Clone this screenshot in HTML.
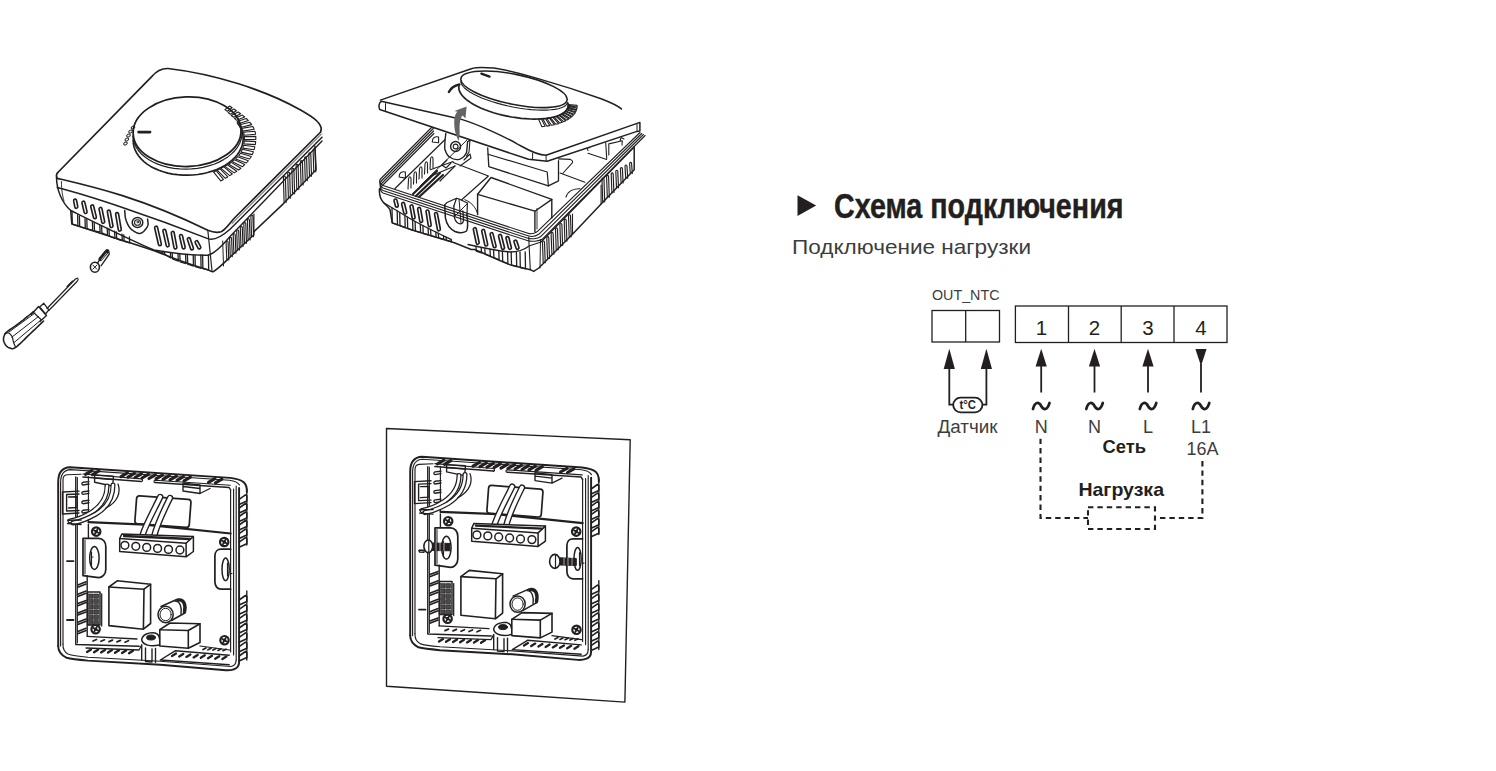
<!DOCTYPE html>
<html><head><meta charset="utf-8">
<style>
html,body{margin:0;padding:0;background:#fff;width:1496px;height:771px;overflow:hidden}
svg{position:absolute;left:0;top:0;display:block}
text{font-family:"Liberation Sans",sans-serif}
</style></head><body>
<svg width="1496" height="771" viewBox="0 0 1496 771">
<g id="ill1" fill="none" stroke="#231f20" stroke-linejoin="round" stroke-linecap="round">
<path d="M57.3,178.3 C56,176 56.5,173.5 58.3,172 L151.7,76.6 C156,71.5 161,68.3 168,68.5 C215,74 265,90 300.6,110 C311,116 319.5,121 321.3,128.2 L320.7,132 L234,218.5 C229,224 225.5,230 221,231.8 C216.5,233 212,232 207.8,230.3 C140,197 90,186 57.3,178.3 Z" stroke-width="1.7"/>
<path d="M57.3,187.6 C90,196 150,216 207.8,238.6 C213,240.5 219,239 230,229.2 L322,137.2" stroke-width="1.5"/>
<path d="M232,223.5 L321.5,134" stroke-width="0.9"/>
<path d="M56.5,177 C56.5,190 62,203 70.7,210.5" stroke-width="1.5"/>
<path d="M61.4,181.4 C61.5,190 62.5,196 64,201" stroke-width="0.9"/>
<path d="M70.7,210.5 C100,225 130,240 153.9,250 C175,253.5 195,255.5 207.8,255.2 C214,254 222,246 230,236.5 L322,141" stroke-width="1.4"/>
<path d="M70.7,210.5 L71.8,224 C90,230 115,238 133,243.7 L146,248 L154.9,251 C170,257 195,266 207.8,269.7 C210,271 212,272 213,271.8 C218,269 224,263 230,257.2 L253.9,234.8 L253.9,231.6 L283.5,203.6 L316.1,169.7 L314.9,146.3" stroke-width="1.5"/>
<path d="M253.9,214 L253.9,232" stroke-width="1.2"/>
<path d="M207.8,230.3 L212,270.7" stroke-width="1.2"/>
<path d="M222.7,241 L223.5,266" stroke-width="1.0"/>
<path d="M72.0,211.3 L72.3,224.1 L77.9,225.9 L77.6,214.8" stroke-width="1.3"/>
<path d="M79.4,215.8 L79.7,226.5 L85.3,228.3 L85.0,218.6" stroke-width="1.3"/>
<path d="M86.8,219.4 L87.1,228.8 L92.7,230.4 L92.4,221.9" stroke-width="1.3"/>
<path d="M94.2,222.7 L94.5,230.8 L100.1,232.2 L99.8,225.1" stroke-width="1.3"/>
<path d="M101.6,225.9 L101.9,232.9 L107.5,235.3 L107.2,228.2" stroke-width="1.3"/>
<path d="M109.0,228.9 L109.3,236.1 L114.9,238.3 L114.6,231.1" stroke-width="1.3"/>
<path d="M116.4,231.8 L116.7,238.9 L122.3,240.8 L122.0,234.1" stroke-width="1.3"/>
<path d="M123.8,234.8 L124.1,241.3 L129.7,242.8 L129.4,236.8" stroke-width="1.3"/>
<path d="M157.0,250.9 L157.3,251.1 L163.1,253.5 L162.8,252.0" stroke-width="1.3"/>
<path d="M164.6,252.3 L164.9,254.4 L170.7,257.9 L170.4,253.0" stroke-width="1.3"/>
<path d="M172.2,253.2 L172.5,258.9 L178.3,261.2 L178.0,253.7" stroke-width="1.3"/>
<path d="M179.8,253.9 L180.1,261.8 L185.9,263.6 L185.6,254.4" stroke-width="1.3"/>
<path d="M187.4,254.5 L187.7,264.2 L193.5,266.1 L193.2,254.8" stroke-width="1.3"/>
<path d="M195.0,254.8 L195.3,266.7 L201.1,268.3 L200.8,255.0" stroke-width="1.3"/>
<path d="M202.6,255.0 L202.9,268.6 L208.7,270.2 L208.4,255.2" stroke-width="1.3"/>
<path d="M226.8,260.0 L226.1,242.3 C226.1,240.6 228.1,240.6 228.1,242.3 L228.8,260.0" stroke-width="1.15"/>
<path d="M230.3,256.6 L229.6,238.6 C229.6,236.9 231.6,236.9 231.6,238.6 L232.3,256.6" stroke-width="1.15"/>
<path d="M233.9,253.3 L233.2,235.0 C233.2,233.3 235.2,233.3 235.2,235.0 L235.9,253.3" stroke-width="1.15"/>
<path d="M237.4,250.0 L236.7,231.3 C236.7,229.6 238.7,229.6 238.7,231.3 L239.4,250.0" stroke-width="1.15"/>
<path d="M241.0,246.6 L240.3,227.6 C240.3,225.9 242.3,225.9 242.3,227.6 L243.0,246.6" stroke-width="1.15"/>
<path d="M244.5,243.3 L243.8,223.9 C243.8,222.2 245.8,222.2 245.8,223.9 L246.5,243.3" stroke-width="1.15"/>
<path d="M248.1,240.0 L247.4,220.2 C247.4,218.5 249.4,218.5 249.4,220.2 L250.1,240.0" stroke-width="1.15"/>
<path d="M251.6,236.7 L250.9,216.5 C250.9,214.8 252.9,214.8 252.9,216.5 L253.6,236.7" stroke-width="1.15"/>
<path d="M284.1,202.6 L283.4,177.4 C283.4,175.7 285.4,175.7 285.4,177.4 L286.1,202.6" stroke-width="1.15"/>
<path d="M288.4,198.2 L287.7,173.5 C287.7,171.8 289.7,171.8 289.7,173.5 L290.4,198.2" stroke-width="1.15"/>
<path d="M292.6,193.8 L291.9,169.6 C291.9,167.9 293.9,167.9 293.9,169.6 L294.6,193.8" stroke-width="1.15"/>
<path d="M296.8,189.4 L296.1,165.7 C296.1,164.0 298.1,164.0 298.1,165.7 L298.8,189.4" stroke-width="1.15"/>
<path d="M301.1,185.0 L300.4,161.9 C300.4,160.2 302.4,160.2 302.4,161.9 L303.1,185.0" stroke-width="1.15"/>
<path d="M305.3,180.6 L304.6,158.0 C304.6,156.3 306.6,156.3 306.6,158.0 L307.3,180.6" stroke-width="1.15"/>
<path d="M309.5,176.2 L308.8,154.1 C308.8,152.4 310.8,152.4 310.8,154.1 L311.5,176.2" stroke-width="1.15"/>
<path d="M313.8,171.8 L313.1,150.2 C313.1,148.5 315.1,148.5 315.1,150.2 L315.8,171.8" stroke-width="1.15"/>
<path d="M75.1,200.6 L76.3,206.8" stroke-width="4.6"/>
<path d="M75.1,200.6 L76.3,206.8" stroke="#fff" stroke-width="1.3"/>
<path d="M83.4,202.7 L85.6,212.0" stroke-width="4.6"/>
<path d="M83.4,202.7 L85.6,212.0" stroke="#fff" stroke-width="1.3"/>
<path d="M92.2,206.4 L94.9,217.2" stroke-width="4.6"/>
<path d="M92.2,206.4 L94.9,217.2" stroke="#fff" stroke-width="1.3"/>
<path d="M100.5,208.9 L103.2,221.8" stroke-width="4.6"/>
<path d="M100.5,208.9 L103.2,221.8" stroke="#fff" stroke-width="1.3"/>
<path d="M108.8,211.6 L111.5,226.0" stroke-width="4.6"/>
<path d="M108.8,211.6 L111.5,226.0" stroke="#fff" stroke-width="1.3"/>
<path d="M117.1,214.1 L119.8,229.6" stroke-width="4.6"/>
<path d="M117.1,214.1 L119.8,229.6" stroke="#fff" stroke-width="1.3"/>
<path d="M156.1,227.7 L159.9,244.2" stroke-width="4.6"/>
<path d="M156.1,227.7 L159.9,244.2" stroke="#fff" stroke-width="1.3"/>
<path d="M164.4,230.8 L167.7,245.3" stroke-width="4.6"/>
<path d="M164.4,230.8 L167.7,245.3" stroke="#fff" stroke-width="1.3"/>
<path d="M172.7,232.9 L175.4,247.4" stroke-width="4.6"/>
<path d="M172.7,232.9 L175.4,247.4" stroke="#fff" stroke-width="1.3"/>
<path d="M181.0,236.0 L183.7,247.4" stroke-width="4.6"/>
<path d="M181.0,236.0 L183.7,247.4" stroke="#fff" stroke-width="1.3"/>
<path d="M188.8,239.1 L192.0,248.4" stroke-width="4.6"/>
<path d="M188.8,239.1 L192.0,248.4" stroke="#fff" stroke-width="1.3"/>
<path d="M196.6,242.2 L199.3,247.4" stroke-width="4.6"/>
<path d="M196.6,242.2 L199.3,247.4" stroke="#fff" stroke-width="1.3"/>
<path d="M124.7,210.5 L124.8,211.7 L124.9,212.9 L125.0,214.1 L125.1,215.3 L125.2,216.5 L125.4,217.7 L125.7,218.8 L126.0,220.0 L126.4,221.2 L126.9,222.4 L127.4,223.6 L128.0,224.8 L128.6,226.0 L129.4,227.1 L130.1,228.1 L131.0,229.0 L132.0,229.9 L133.1,230.7 L134.3,231.5 L135.6,232.2 L136.8,232.8 L138.1,233.2 L139.3,233.4 L140.4,233.4 L141.5,233.0 L142.5,232.4 L143.6,231.5 L144.6,230.5 L145.5,229.3 L146.4,228.2 L147.1,227.1 L147.6,226.1 L147.9,225.2 L148.1,224.3 L148.1,223.4 L148.0,222.5 L147.9,221.6 L147.8,220.7 L147.6,219.8 L147.6,218.9" stroke-width="1.5"/>
<ellipse cx="137.5" cy="222.5" rx="5.3" ry="5" stroke-width="1.5"/>
<ellipse cx="137.5" cy="222.5" rx="3" ry="2.8" stroke-width="1.1"/>
<circle cx="137.8" cy="222" r="0.9" stroke-width="1"/>
<ellipse cx="187.1" cy="131.7" rx="54" ry="34.8" transform="rotate(-1.9 187.1 131.7)" stroke-width="1.8"/>
<path d="M242.0,132.5 L241.8,136.3 L240.9,140.0 L239.5,143.7 L237.4,147.3 L234.8,150.7 L231.5,153.9 L227.8,156.9 L223.6,159.6 L219.0,162.1 L214.0,164.2 L208.7,165.9 L203.1,167.3 L197.4,168.3 L191.5,168.9 L185.6,169.1 L179.7,168.9 L173.9,168.3 L168.3,167.3 L162.9,165.9 L157.7,164.1 L153.0,162.0 L148.6,159.5 L144.7,156.8 L141.2,153.8 L138.4,150.5 L136.1,147.1 L134.4,143.5 L133.3,139.9 L132.8,136.1" stroke-width="1.2"/>
<path d="M237.5,122.9 L239.6,125.9 L241.2,129.0 L242.3,132.2 L243.0,135.4 L243.2,138.7 L242.9,142.0 L242.2,145.3 L241.0,148.5 L239.3,151.7 L237.3,154.7 L234.7,157.7 L231.8,160.4 L228.6,163.0 L224.9,165.4 L221.0,167.6 L216.8,169.5 L212.3,171.1 L207.6,172.5 L202.8,173.7 L197.8,174.5 L192.8,175.0 L187.7,175.2 L182.6,175.1 L177.6,174.7 L172.6,174.1 L167.8,173.1 L163.2,171.8 L158.8,170.2 L154.6,168.4 L150.7,166.4 L147.1,164.1 L143.9,161.6 L141.1,158.9 L138.7,156.0 L136.7,153.0 L135.1,149.9 L134.0,146.7 L133.4,143.5 L133.2,140.2" stroke-width="1.7"/>
<path d="M138.6,132.1 L150,132.1" stroke-width="2.8"/>
<ellipse cx="133.0" cy="127.5" rx="1.9" ry="1.3" transform="rotate(-30 133.0 127.5)" stroke-width="1"/>
<ellipse cx="130.5" cy="131.5" rx="1.9" ry="1.3" transform="rotate(-30 130.5 131.5)" stroke-width="1"/>
<ellipse cx="128.5" cy="135.5" rx="1.9" ry="1.3" transform="rotate(-30 128.5 135.5)" stroke-width="1"/>
<ellipse cx="126.8" cy="139.5" rx="1.9" ry="1.3" transform="rotate(-30 126.8 139.5)" stroke-width="1"/>
<ellipse cx="125.5" cy="143.5" rx="1.9" ry="1.3" transform="rotate(-30 125.5 143.5)" stroke-width="1"/>
<path d="M229.7,106.0 L232.1,107.7 L227.3,111.3 L224.9,109.6 Z" stroke-width="1.1"/>
<path d="M233.9,109.0 L236.4,110.7 L230.5,114.3 L228.1,112.6 Z" stroke-width="1.1"/>
<path d="M238.2,112.0 L240.6,113.7 L233.7,117.3 L231.2,115.5 Z" stroke-width="1.1"/>
<path d="M242.4,115.1 L244.7,117.0 L236.7,120.3 L234.4,118.4 Z" stroke-width="1.1"/>
<path d="M246.3,118.5 L248.4,120.6 L239.3,123.6 L237.2,121.5 Z" stroke-width="1.1"/>
<path d="M249.9,122.3 L251.7,124.6 L241.6,127.2 L239.7,124.8 Z" stroke-width="1.1"/>
<path d="M252.9,126.5 L254.2,129.2 L243.0,131.1 L241.7,128.4 Z" stroke-width="1.1"/>
<path d="M255.0,131.3 L255.6,134.2 L244.2,135.3 L243.6,132.3 Z" stroke-width="1.1"/>
<path d="M255.8,136.4 L255.8,139.4 L244.4,139.6 L244.4,136.6 Z" stroke-width="1.1"/>
<path d="M255.7,141.6 L255.3,144.6 L243.9,143.9 L244.3,140.9 Z" stroke-width="1.1"/>
<path d="M254.8,146.8 L254.1,149.7 L242.8,148.1 L243.6,145.2 Z" stroke-width="1.1"/>
<path d="M253.4,151.8 L252.3,154.6 L241.1,152.1 L242.3,149.3 Z" stroke-width="1.1"/>
<path d="M251.3,156.5 L249.6,159.0 L238.7,155.8 L240.4,153.2 Z" stroke-width="1.1"/>
<path d="M248.3,160.8 L246.3,163.0 L235.7,158.9 L237.6,156.7 Z" stroke-width="1.1"/>
<path d="M244.7,164.6 L242.6,166.7 L232.3,161.7 L234.5,159.7 Z" stroke-width="1.1"/>
<path d="M240.9,168.2 L238.6,170.0 L228.7,164.3 L231.1,162.4 Z" stroke-width="1.1"/>
<path d="M236.8,171.3 L234.2,172.9 L224.9,166.4 L227.4,164.8 Z" stroke-width="1.1"/>
<path d="M232.3,174.0 L229.8,175.6 L221.0,168.3 L223.6,166.7 Z" stroke-width="1.1"/>
<path d="M227.9,176.8 L225.4,178.3 L217.3,170.3 L219.9,168.7 Z" stroke-width="1.1"/>
<path d="M223.4,179.4 L220.8,180.9 L213.6,172.2 L216.2,170.7 Z" stroke-width="1.1"/>
<ellipse cx="94.9" cy="267.2" rx="4.5" ry="5" stroke-width="1.6"/>
<path d="M92.8,265 L96.8,269.2 M97,265 L92.8,269.2" stroke-width="1"/>
<path d="M97.3,263.3 L104.5,252.5 C106.5,250 110,251.5 109,254.5 L101,265.8" stroke-width="1.3"/>
<path d="M100.5,259 L107.2,251.2" stroke-width="4.2"/>
<path d="M101.5,259.5 L103,257.8 M103.3,257.3 L104.8,255.6 M105,255 L106.5,253.3" stroke="#fff" stroke-width="0.7"/>
<path d="M77.8,278.1 L75.5,279 L47,308.5 M78.2,279.5 L77,281.5 L48.8,310.5" stroke-width="1.2"/>
<path d="M67,286.5 L72.5,281" stroke-width="1.1"/>
<path d="M39.7,307 L43.8,303.3 L48.8,309.8 L45.5,314 Z" stroke-width="1.3"/>
<path d="M31.1,314.7 L38.5,306.5 L46.5,315.5 L40,321.5" stroke-width="1.4"/>
<path d="M33,312 L41,319.5" stroke-width="1.1"/>
<path d="M27.5,316.5 L26.3,317.4 L25.1,318.4 L24.0,319.3 L22.8,320.3 L21.6,321.2 L20.4,322.2 L19.2,323.1 L18.0,324.0 L16.7,324.9 L15.4,325.9 L14.0,326.8 L12.6,327.8 L11.3,328.7 L10.0,329.5 L8.9,330.3 L8.0,331.0 L7.3,331.6 L6.7,332.1 L6.2,332.5 L5.8,332.8 L5.5,333.2 L5.2,333.6 L5.0,334.0 L4.7,334.5 L4.4,335.1 L4.2,335.7 L3.9,336.4 L3.7,337.1 L3.6,337.8 L3.5,338.6 L3.5,339.3 L3.5,340.0 L3.6,340.7 L3.8,341.4 L4.1,342.2 L4.4,342.9 L4.8,343.7 L5.2,344.3 L5.6,345.0 L6.0,345.5 L6.4,346.0 L6.9,346.4 L7.3,346.8 L7.8,347.1 L8.3,347.4 L8.9,347.7 L9.4,347.9 L10.0,348.0 L10.6,348.2 L11.1,348.4 L11.6,348.6 L12.1,348.7 L12.8,348.7 L13.5,348.5 L14.5,348.1 L15.6,347.4 L17.0,346.3 L18.6,344.9 L20.4,343.3 L22.3,341.5 L24.3,339.6 L26.2,337.6 L28.2,335.7 L30.0,334.0 L31.7,332.4 L33.5,330.7 L35.2,329.1 L36.8,327.5 L38.5,325.9 L40.2,324.2 L41.9,322.6 L43.6,321.0" stroke-width="1.6"/>
<path d="M27.5,316.5 L33.5,311.5" stroke-width="1.4"/>
<path d="M4.7,334.0 L5.2,333.8 L5.7,333.6 L6.1,333.4 L6.6,333.2 L7.1,333.0 L7.6,332.9 L8.0,332.9 L8.5,333.0 L9.0,333.2 L9.4,333.5 L9.9,333.9 L10.4,334.3 L10.8,334.8 L11.3,335.4 L11.7,335.9 L12.0,336.5 L12.3,337.1 L12.5,337.7 L12.7,338.4 L12.8,339.1 L13.0,339.9 L13.1,340.6 L13.3,341.3 L13.5,342.0 L13.7,342.7 L14.0,343.4 L14.2,344.0 L14.5,344.7 L14.8,345.4 L15.1,346.1 L15.3,346.7 L15.6,347.4" stroke-width="1.2"/>
<path d="M9,332 L35,313 M12,337 L38.5,316.5 M13.5,343 L41.5,319.5" stroke-width="1.0"/>
</g>
<g id="ill2" fill="none" stroke="#231f20" stroke-linejoin="round" stroke-linecap="round">
<path d="M433.0,126.0 L381.0,178.5 C378.5,181.0 379.5,184.0 383.0,185.5 L528.0,233.3 C531.0,234.3 534.0,233.8 537.0,231.8 L640.0,132.5" stroke-width="1.1"/>
<path d="M433.3,128.5 L381.3,181.0 C378.8,183.5 379.8,186.5 383.0,188.0 L528.0,235.8 C531.0,236.8 535.7,236.3 538.7,234.3 L641.7,133.5" stroke-width="1.1"/>
<path d="M433.6,131.0 L381.6,183.5 C379.1,186.0 380.1,189.0 383.0,190.5 L528.0,238.3 C531.0,239.3 537.4,238.8 540.4,236.8 L643.4,134.5" stroke-width="1.1"/>
<path d="M433.9,133.5 L381.9,186.0 C379.4,188.5 380.4,191.5 383.0,193.0 L528.0,240.8 C531.0,241.8 539.1,241.3 542.1,239.3 L645.1,135.5" stroke-width="1.1"/>
<path d="M379.5,188.8 C379,195 381,200 383.7,202.7 C386,205 388.5,207 390,209.7 L392.2,222.9 L412,230 L454.3,242.7 L471.2,249.5 L474.6,249.5 C490,256 500,261 510,264.7 L530.3,269.7 L533.7,271.4 L538.8,268 L572.5,234.3 L601.1,204 L634.2,169.8 L634.2,147" stroke-width="1.5"/>
<path d="M383.7,202.7 L412,219.8 C425,227 435,232 451,239.4 M468,244.5 C490,249.5 500,251 510,252 C518,252 524,250 529,246 L541,242 L634.2,147" stroke-width="1.3"/>
<path d="M528.7,237 L530.3,269.7" stroke-width="1.1"/>
<path d="M540.5,240 L540,268" stroke-width="1.0"/>
<path d="M572.5,214 L572.5,234.3 M601.1,185 L601.1,204" stroke-width="1.1"/>
<path d="M392.0,207.8 L392.3,222.9 L397.5,224.8 L397.2,211.0" stroke-width="1.3"/>
<path d="M399.7,212.6 L400.0,225.7 L405.2,227.6 L404.9,215.7" stroke-width="1.3"/>
<path d="M407.4,217.2 L407.7,228.5 L412.9,230.2 L412.6,220.1" stroke-width="1.3"/>
<path d="M415.1,221.5 L415.4,231.0 L420.6,232.5 L420.3,224.2" stroke-width="1.3"/>
<path d="M422.9,225.5 L423.2,233.3 L428.4,234.8 L428.1,228.1" stroke-width="1.3"/>
<path d="M430.6,229.4 L430.9,235.6 L436.1,237.1 L435.8,231.9" stroke-width="1.3"/>
<path d="M438.3,233.1 L438.6,237.8 L443.8,239.4 L443.5,235.8" stroke-width="1.3"/>
<path d="M446.0,237.2 L446.3,240.1 L451.5,241.7 L451.2,239.5" stroke-width="1.3"/>
<path d="M476.0,246.5 L476.3,251.2 L481.5,252.9 L481.2,247.7" stroke-width="1.3"/>
<path d="M484.8,248.5 L485.1,254.1 L490.3,256.0 L490.0,249.5" stroke-width="1.3"/>
<path d="M493.6,250.1 L493.9,257.5 L499.1,259.9 L498.8,250.8" stroke-width="1.3"/>
<path d="M502.4,251.2 L502.7,261.5 L507.9,263.8 L507.6,251.7" stroke-width="1.3"/>
<path d="M511.2,252.0 L511.5,265.1 L516.7,266.7 L516.4,252.0" stroke-width="1.3"/>
<path d="M520.0,252.0 L520.3,267.6 L525.5,268.8 L525.2,252.0" stroke-width="1.3"/>
<path d="M395.5,200.5 L396.8,205.7" stroke-width="4.6"/>
<path d="M395.5,200.5 L396.8,205.7" stroke="#fff" stroke-width="1.3"/>
<path d="M403.1,203.9 L405.2,212.5" stroke-width="4.6"/>
<path d="M403.1,203.9 L405.2,212.5" stroke="#fff" stroke-width="1.3"/>
<path d="M411.5,206.4 L413.6,217.5" stroke-width="4.6"/>
<path d="M411.5,206.4 L413.6,217.5" stroke="#fff" stroke-width="1.3"/>
<path d="M419.1,208.9 L421.2,220.9" stroke-width="4.6"/>
<path d="M419.1,208.9 L421.2,220.9" stroke="#fff" stroke-width="1.3"/>
<path d="M427.5,211.5 L429.7,225.1" stroke-width="4.6"/>
<path d="M427.5,211.5 L429.7,225.1" stroke="#fff" stroke-width="1.3"/>
<path d="M436.0,214.0 L438.9,229.3" stroke-width="4.6"/>
<path d="M436.0,214.0 L438.9,229.3" stroke="#fff" stroke-width="1.3"/>
<path d="M474.8,229.2 L477.7,242.8" stroke-width="4.6"/>
<path d="M474.8,229.2 L477.7,242.8" stroke="#fff" stroke-width="1.3"/>
<path d="M483.2,230.9 L486.2,244.5" stroke-width="4.6"/>
<path d="M483.2,230.9 L486.2,244.5" stroke="#fff" stroke-width="1.3"/>
<path d="M491.6,234.2 L494.6,246.2" stroke-width="4.6"/>
<path d="M491.6,234.2 L494.6,246.2" stroke="#fff" stroke-width="1.3"/>
<path d="M500.0,235.9 L503.0,247.9" stroke-width="4.6"/>
<path d="M500.0,235.9 L503.0,247.9" stroke="#fff" stroke-width="1.3"/>
<path d="M507.5,238.1 L509.9,247.8" stroke-width="4.6"/>
<path d="M507.5,238.1 L509.9,247.8" stroke="#fff" stroke-width="1.3"/>
<path d="M515.4,241.6 L517.5,247.8" stroke-width="4.6"/>
<path d="M515.4,241.6 L517.5,247.8" stroke="#fff" stroke-width="1.3"/>
<path d="M543.2,262.8 L542.5,242.3 C542.5,240.6 544.5,240.6 544.5,242.3 L545.2,262.8" stroke-width="1.15"/>
<path d="M547.5,258.5 L546.8,237.9 C546.8,236.2 548.8,236.2 548.8,237.9 L549.5,258.5" stroke-width="1.15"/>
<path d="M551.9,254.1 L551.1,233.6 C551.1,231.9 553.1,231.9 553.1,233.6 L553.9,254.1" stroke-width="1.15"/>
<path d="M556.2,249.8 L555.5,229.2 C555.5,227.5 557.5,227.5 557.5,229.2 L558.2,249.8" stroke-width="1.15"/>
<path d="M560.6,245.4 L559.9,224.8 C559.9,223.1 561.9,223.1 561.9,224.8 L562.6,245.4" stroke-width="1.15"/>
<path d="M564.9,241.1 L564.2,220.4 C564.2,218.7 566.2,218.7 566.2,220.4 L566.9,241.1" stroke-width="1.15"/>
<path d="M569.2,236.8 L568.5,216.0 C568.5,214.3 570.5,214.3 570.5,216.0 L571.2,236.8" stroke-width="1.15"/>
<path d="M602.7,202.0 L602.0,179.3 C602.0,177.6 604.0,177.6 604.0,179.3 L604.7,202.0" stroke-width="1.15"/>
<path d="M607.3,197.3 L606.6,176.7 C606.6,175.0 608.6,175.0 608.6,176.7 L609.3,197.3" stroke-width="1.15"/>
<path d="M611.9,192.5 L611.2,174.1 C611.2,172.4 613.2,172.4 613.2,174.1 L613.9,192.5" stroke-width="1.15"/>
<path d="M616.5,187.8 L615.8,171.5 C615.8,169.8 617.8,169.8 617.8,171.5 L618.5,187.8" stroke-width="1.15"/>
<path d="M621.1,183.0 L620.4,168.9 C620.4,167.2 622.4,167.2 622.4,168.9 L623.1,183.0" stroke-width="1.15"/>
<path d="M625.7,178.3 L625.0,166.3 C625.0,164.6 627.0,164.6 627.0,166.3 L627.7,178.3" stroke-width="1.15"/>
<path d="M630.3,173.5 L629.6,163.7 C629.6,162.0 631.6,162.0 631.6,163.7 L632.3,173.5" stroke-width="1.15"/>
<path d="M444.7,204.9 L445.4,217.9 C446.5,224 450,229 455,231.5 C459,233.3 464,233 466.5,231 C468,229 467.8,222 467,214.6" stroke-width="1.5"/>
<path d="M453.8,206.2 L454.5,217.9 C455.5,221.5 457.5,223.5 460,223.8 C462.5,223.8 463.8,222 463.5,219 L462.9,211" stroke-width="1.3"/>
<path d="M444.7,204.9 L447,202.5 L456.5,198.2 L459,199 L467.4,203 L467,214.6 M453.8,206.2 L456.5,198.2" stroke-width="1.2"/>
<path d="M464.8,199.7 C471,202 476,207 477.8,214.6 M455,216 L468,203 M459,199 L461,223" stroke-width="1.0"/>
<path d="M444.8,139.7 L395.0,188.5" stroke-width="1.2"/>
<path d="M467.0,140.0 L420.0,186.0" stroke-width="1.0"/>
<path d="M432.3,142 C432,137.5 435.5,136 438.6,137 L438.6,142.8 Z M399.1,177 C399,172.5 402,171 405.4,172 L405.4,178.1 Z" stroke-width="1.1"/>
<path d="M408.0,189.0 L408.5,179.0 C409.0,176.0 411.0,176.0 411.0,179.0 L411.0,188.0" stroke-width="1.1"/>
<path d="M413.5,184.0 L414.0,174.0 C414.5,171.0 416.5,171.0 416.5,174.0 L416.5,183.0" stroke-width="1.1"/>
<path d="M419.0,179.0 L419.5,169.0 C420.0,166.0 422.0,166.0 422.0,169.0 L422.0,178.0" stroke-width="1.1"/>
<path d="M424.5,174.0 L425.0,164.0 C425.5,161.0 427.5,161.0 427.5,164.0 L427.5,173.0" stroke-width="1.1"/>
<path d="M430.0,169.0 L430.5,159.0 C431.0,156.0 433.0,156.0 433.0,159.0 L433.0,168.0" stroke-width="1.1"/>
<path d="M413,194 L437,171 M416,196 L440,173 M419,197 L443,175" stroke-width="2.2"/>
<path d="M430.3,169.8 L453.1,161.5 M431,176 L455,166" stroke-width="1.1"/>
<path d="M453.1,162.5 L488.4,176 L461.4,200 M455,166 L440,181" stroke-width="1.2"/>
<path d="M491,177.5 L551.8,199.4 L534.9,211.2 L477.6,194.3 Z" stroke-width="1.4"/>
<path d="M477.6,194.3 L477.6,214.6 M534.9,211.2 L534.9,231.4 M551.8,199.4 L551.8,218" stroke-width="1.4"/>
<path d="M537,208.5 L537,229" stroke-width="0.9"/>
<path d="M487.7,148 L488.8,166.6 L548.4,185.9 L558.5,180.8 L558.5,160.6" stroke-width="1.3"/>
<path d="M488,154.2 L547.2,172 L548.4,185.9" stroke-width="1.2"/>
<path d="M558.5,158.9 L570.4,159.4 C572,160 573,161.5 572.5,162.6 L563.1,173 M560,173 L584.9,182.3" stroke-width="1.1"/>
<path d="M588,150.5 L586.8,147.6 L589.8,147.8 M588,153.2 L606.7,159.4" stroke-width="1.1"/>
<path d="M605.7,142.8 L606.7,158.4 M608.8,143.9 L608.8,155 M608.8,143.9 L622.3,140.8 L622,145 M620,141 L621,137.5 L624,139" stroke-width="1.1"/>
<path d="M566,197 C568,191 574,188.5 580,188.8" stroke-width="1.1"/>
<path d="M445.8,133.5 C445,140 444.5,145 444.8,149 C446,153 447.5,156 450,157.3 C453,159.5 456,160 459.3,159.4 C463,158 465.5,155 466.6,152.2 L467.6,141.8" stroke-width="1.4"/>
<circle cx="455.6" cy="146.5" r="5" stroke-width="1.4"/>
<circle cx="455.6" cy="146.5" r="2.4" stroke-width="1.1"/>
<path d="M467.6,141.8 L470,140 L469,152 L466.5,156 M464,160 L470,154 L471,158 L460,166" stroke-width="1.1"/>
<path d="M447,160 L442,165 L446,168 L451,163" stroke-width="1.1"/>
<path d="M380.4,100.1 L472,68.5 C476,67 480,66.8 493.6,68 C510,70 560,84 601.1,98.8 C615,104 630,114 639.9,122.4 L639.9,131 L547.2,161.2 L528.5,159.3 L379.7,109.5 C378.5,107 378.7,103 380.4,100.1 Z" fill="#fff" stroke="none"/>
<path d="M380.4,100.1 L472,68.5 C476,67 480,66.8 493.6,68 C510,70 560,84 601.1,98.8 C612,103 618,106 621.4,108.9" stroke-width="1.5"/>
<path d="M381.2,101.3 L460,118.9 C480,125 505,137 517.1,143.8 C525,148 535,155 546.1,155.2 L639.9,122.4 L639.9,131 L637,131.4 L547.2,161.2 L528.5,159.3 L379.7,109.5 C378.5,107 378.7,103 381.2,101.3" stroke-width="1.5"/>
<path d="M385.5,103.6 L385.5,110.6 M532.6,153.1 L532.6,159.6 M546.1,155.2 L546.1,161.4" stroke-width="1.0"/>
<path d="M637,124 L637,131.4" stroke-width="1.0"/>
<ellipse cx="514" cy="89.3" rx="54.2" ry="15" transform="rotate(11.6 514 89.3)" stroke-width="1.6"/>
<path d="M567.5,102.5 L566.8,104.1 L565.6,105.5 L563.7,106.8 L561.3,107.8 L558.3,108.7 L554.8,109.4 L550.8,109.8 L546.4,110.1 L541.6,110.1 L536.4,110.0 L531.1,109.6 L525.5,109.0 L519.8,108.2 L514.0,107.2 L508.2,106.0 L502.5,104.6 L497.0,103.1 L491.6,101.5 L486.5,99.7 L481.7,97.9 L477.4,95.9 L473.4,94.0 L469.9,92.0 L467.0,90.0 L464.5,88.0 L462.7,86.0 L461.5,84.1 L460.9,82.3 L460.9,80.7" stroke-width="1.1"/>
<path d="M567.9,103.0 L568.2,104.8 L568.1,106.5 L567.6,108.2 L566.7,109.8 L565.4,111.3 L563.7,112.7 L561.7,114.0 L559.3,115.2 L556.6,116.2 L553.6,117.0 L550.3,117.8 L546.7,118.3 L542.8,118.7 L538.8,119.0 L534.5,119.1 L530.2,119.0 L525.6,118.7 L521.0,118.3 L516.4,117.7 L511.7,117.0 L507.1,116.1 L502.4,115.1 L497.9,114.0 L493.5,112.7 L489.2,111.3 L485.1,109.8 L481.2,108.2 L477.6,106.5 L474.2,104.7 L471.1,102.9 L468.3,101.0 L465.8,99.1 L463.7,97.2 L462.0,95.3 L460.6,93.3 L459.6,91.4 L459.0,89.6 L458.8,87.8 L459.0,86.0" stroke-width="1.7"/>
<path d="M481.3,73.6 L489.6,76.6" stroke-width="2.2"/>
<path d="M448.9,91.9 C451,87.5 455,85.5 459.4,84.5" stroke-width="2.4"/>
<path d="M568.2,104.6 L577.1,105.4 L577.1,107.1 L568.2,105.8 Z" stroke-width="1.1"/>
<path d="M568.1,106.4 L577.0,108.0 L576.6,109.6 L567.8,107.6 Z" stroke-width="1.1"/>
<path d="M567.6,108.2 L576.3,110.4 L575.6,112.0 L567.0,109.3 Z" stroke-width="1.1"/>
<path d="M566.7,109.8 L575.2,112.8 L574.1,114.3 L565.8,110.9 Z" stroke-width="1.1"/>
<path d="M565.3,111.4 L573.5,115.0 L572.2,116.4 L564.2,112.4 Z" stroke-width="1.1"/>
<path d="M563.6,112.8 L571.4,117.1 L569.7,118.3 L562.2,113.7 Z" stroke-width="1.1"/>
<path d="M561.4,114.2 L568.8,119.0 L566.9,120.1 L559.8,115.0 Z" stroke-width="1.1"/>
<path d="M558.9,115.3 L565.8,120.7 L563.6,121.7 L557.0,116.0 Z" stroke-width="1.1"/>
<path d="M556.0,116.4 L562.4,122.2 L559.9,123.1 L553.9,117.0 Z" stroke-width="1.1"/>
<path d="M552.8,117.2 L558.6,123.6 L555.8,124.3 L550.4,117.7 Z" stroke-width="1.1"/>
<path d="M549.2,117.9 L554.4,124.7 L551.5,125.3 L546.7,118.3 Z" stroke-width="1.1"/>
<path d="M545.4,118.5 L549.9,125.6 L546.8,126.1 L542.7,118.7 Z" stroke-width="1.1"/>
<path d="M541.3,118.8 L545.1,126.3 L541.8,126.6 L538.5,119.0 Z" stroke-width="1.1"/>
<path d="M458.6,141 C455,134 453.5,126 454.5,118 C455,115 456,113 457.5,111.8 L454.4,111 L466.6,106.5 L465.5,118.5 L462.6,115.5 C460,118 459.5,124 459.6,130 C459.8,134 459.5,138 458.6,141 Z" fill="#636466" stroke="none"/>
</g>
<g id="plate" fill="none" stroke="#231f20" stroke-linejoin="round" stroke-linecap="round">
<path d="M58.2,646 L58.2,482 C58.2,473 62,467.5 70,467.2 L230.2,477.9 C236,478.5 241,480 244,482.5 C246.5,485 247,488 246.8,492" stroke-width="1.95"/>
<path d="M60.6,646 L60.6,482.5 C60.6,475 64,470 70.5,469.6 L229.5,480.2 C234,480.8 237.5,482 239.5,485" stroke-width="1.15"/>
<path d="M63,644 L63,480 C63,477 64.5,475 67,474.8 L81,474.2" stroke-width="1.15"/>
<path d="M230.6,490 L230.6,652 M233.6,489 L233.6,655 M236.2,486 L236.2,660" stroke-width="1.15"/>
<path d="M239.1,488 L239.1,662.3 C239,666 237,668.5 233.9,669.3 C232,670 230,670.5 226,670.3 L160.3,664.7 L87.8,660.6 C77,659.5 70,658.5 66.4,657.7 C61,655 58.2,651 58.2,646" stroke-width="1.95"/>
<path d="M236.2,660 C236,664 234.5,666 231,666.5 L160.3,661.3 L88,657.2 C78,656.3 72,655.5 68,654 C64,652 62.8,649 63,644" stroke-width="1.15"/>
<path d="M75.8,477.1 L75.8,644.5 L139.2,646.3" stroke-width="1.49"/>
<path d="M77.5,477.5 L77.5,643" stroke-width="0.92"/>
<path d="M82.9,477 L141.3,481.5 M155.2,482.6 L229.2,487.5 L230.6,490" stroke-width="1.49"/>
<path d="M82.9,474 L141.3,478.9 C143,479.1 143,481.6 141.3,481.5 M155.2,480.2 L230.2,485.3 M155.2,480.2 C153.5,480.2 153.5,482.6 155.2,482.6" stroke-width="1.15"/>
<path d="M85.5,474.3 L91.9,470.6" stroke-width="3.1"/>
<path d="M92.5,474.7 L98.9,471.0" stroke-width="3.1"/>
<path d="M121.0,476.6 L127.4,472.9" stroke-width="3.1"/>
<path d="M128.0,477.1 L134.4,473.4" stroke-width="3.1"/>
<path d="M135.0,477.5 L141.4,473.8" stroke-width="3.1"/>
<path d="M142.0,478.0 L148.4,474.3" stroke-width="3.1"/>
<path d="M149.0,478.5 L155.4,474.8" stroke-width="3.1"/>
<path d="M156.0,478.9 L162.4,475.2" stroke-width="3.1"/>
<path d="M163.0,479.4 L169.4,475.7" stroke-width="3.1"/>
<path d="M170.0,479.9 L176.4,476.2" stroke-width="3.1"/>
<path d="M177.0,480.3 L183.4,476.6" stroke-width="3.1"/>
<path d="M184.0,480.8 L190.4,477.1" stroke-width="3.1"/>
<path d="M208.5,482.4 L214.9,478.7" stroke-width="3.1"/>
<path d="M215.5,482.9 L221.9,479.2" stroke-width="3.1"/>
<path d="M239.1,499.4 L245.5,494.9 L246.8,495.9 L246.8,500.9 L239.1,504.4" stroke-width="1.61"/>
<path d="M239.1,508.0 L245.5,503.5 L246.8,504.5 L246.8,509.5 L239.1,513.0" stroke-width="1.61"/>
<path d="M239.1,516.5 L245.5,512.0 L246.8,513.0 L246.8,518.0 L239.1,521.5" stroke-width="1.61"/>
<path d="M239.1,525.0 L245.5,520.5 L246.8,521.5 L246.8,526.5 L239.1,530.0" stroke-width="1.61"/>
<path d="M239.1,533.6 L245.5,529.1 L246.8,530.1 L246.8,535.1 L239.1,538.6" stroke-width="1.61"/>
<path d="M239.1,542.2 L245.5,537.7 L246.8,538.7 L246.8,543.7 L239.1,547.2" stroke-width="1.61"/>
<path d="M239.1,600.0 L245.5,595.5 L246.8,596.5 L246.8,601.5 L239.1,605.0" stroke-width="1.61"/>
<path d="M239.1,609.3 L245.5,604.8 L246.8,605.8 L246.8,610.8 L239.1,614.3" stroke-width="1.61"/>
<path d="M239.1,618.7 L245.5,614.2 L246.8,615.2 L246.8,620.2 L239.1,623.7" stroke-width="1.61"/>
<path d="M239.1,628.0 L245.5,623.5 L246.8,624.5 L246.8,629.5 L239.1,633.0" stroke-width="1.61"/>
<path d="M239.1,637.3 L245.5,632.8 L246.8,633.8 L246.8,638.8 L239.1,642.3" stroke-width="1.61"/>
<path d="M239.1,646.7 L245.5,642.2 L246.8,643.2 L246.8,648.2 L239.1,651.7" stroke-width="1.61"/>
<path d="M239.1,656.0 L245.5,651.5 L246.8,652.5 L246.8,657.5 L239.1,661.0" stroke-width="1.61"/>
<path d="M246.8,489 L246.8,545 M246.8,591 L246.8,660" stroke-width="1.38"/>
<path d="M94.6,475 L113.3,476.1 L113.3,480 L112.2,486 L94.6,482.3 Z M94.6,478 L113,479.5" stroke-width="1.38"/>
<path d="M183,483.1 L200,485 L200,493.5 L183,491 Z M183,486.5 L200,488.5 M200,493.5 L210,488.5" stroke-width="1.38"/>
<path d="M89,481.6 L83,482.3 C81.5,482.8 81.5,484.6 83,485.0 L89,484.0" stroke-width="1.38"/>
<path d="M89,491.0 L83,491.7 C81.5,492.2 81.5,494.0 83,494.4 L89,493.4" stroke-width="1.38"/>
<path d="M89,500.3 L83,501.0 C81.5,501.5 81.5,503.3 83,503.7 L89,502.7" stroke-width="1.38"/>
<path d="M89,509.6 L83,510.3 C81.5,510.8 81.5,512.6 83,513.0 L89,512.0" stroke-width="1.38"/>
<path d="M88.4,476.6 L88.4,521" stroke-width="1.15"/>
<path d="M79,491.1 L62.5,492 L62.5,514 L79,513 M66.6,494.5 L79,494 M66.6,494.5 L66.6,511 L79,510.5 M68.5,497 L77,496.8 L77,507.5 L68.5,508" stroke-width="1.38"/>
<path d="M107,486 C107,497 101,506 92,512 C85,516.5 78,519.5 70,521" stroke-width="5.06"/>
<path d="M107,486 C107,497 101,506 92,512 C85,516.5 78,519.5 70,521" stroke="#fff" stroke-width="2.53"/>
<path d="M113,485 C113,498 106,508 96,514 C88,518.5 81,521.5 73,523" stroke-width="5.06"/>
<path d="M113,485 C113,498 106,508 96,514 C88,518.5 81,521.5 73,523" stroke="#fff" stroke-width="2.53"/>
<path d="M118,484 C121,492 118,502 106,508" stroke-width="1.26"/>
<path d="M67.6,520.2 L81.1,520 M67.6,523.5 L81.1,524.5" stroke-width="1.38"/>
<path d="M88.4,522.2 L145,524.6 L230.6,533.5" stroke-width="2.18"/>
<path d="M88.4,524.3 L88.4,538 M87.2,575.6 L87.2,636.3" stroke-width="1.38"/>
<path d="M87.2,636.3 L137,639 M200,646 L229.5,650" stroke-width="1.26"/>
<rect x="136.8" y="495.6" width="54.5" height="28.0" rx="3.0" stroke-width="1.72" transform="rotate(4.3 136.8 495.6)"/>
<path d="M160.2,497 C154,510 147,522 142.5,535" stroke-width="6.44"/>
<path d="M160.2,497 C154,510 147,522 142.5,535" stroke="#fff" stroke-width="3.68"/>
<path d="M170,498 C163.5,511 157.5,523 154.2,536" stroke-width="6.44"/>
<path d="M170,498 C163.5,511 157.5,523 154.2,536" stroke="#fff" stroke-width="3.68"/>
<path d="M119.7,538.6 L186.1,543.3 L193.4,536.5 L121.8,534 Z" fill="#fff" stroke-width="1.49"/>
<path d="M119.7,538.6 L119.7,551.6 L186.1,556.8 L186.1,543.3 M186.1,556.8 L193.4,551.5 L193.4,536.5" stroke-width="1.49"/>
<circle cx="124.9" cy="545.3" r="3.9" stroke-width="1.49"/>
<circle cx="135.8" cy="546.3" r="3.9" stroke-width="1.49"/>
<circle cx="146.7" cy="547.4" r="3.9" stroke-width="1.49"/>
<circle cx="157.6" cy="548.4" r="3.9" stroke-width="1.49"/>
<circle cx="168.5" cy="549.4" r="3.9" stroke-width="1.49"/>
<circle cx="179.9" cy="550.0" r="3.9" stroke-width="1.49"/>
<path d="M124,536 L190,539" stroke-width="2.3"/>
<circle cx="96.2" cy="531.6" r="4.2" stroke-width="2.18"/>
<path d="M93.6,530.1 L98.8,533.1 M94.7,534.2 L97.7,529.0" stroke-width="1.72"/>
<circle cx="96.2" cy="531.6" r="1.2" fill="#231f20" stroke-width="0.92"/>
<circle cx="224.2" cy="542.0" r="4.2" stroke-width="2.18"/>
<path d="M221.6,540.5 L226.8,543.5 M222.7,544.6 L225.7,539.4" stroke-width="1.72"/>
<circle cx="224.2" cy="542.0" r="1.2" fill="#231f20" stroke-width="0.92"/>
<circle cx="95.6" cy="629.2" r="4.2" stroke-width="2.18"/>
<path d="M93.0,627.7 L98.2,630.7 M94.1,631.8 L97.1,626.6" stroke-width="1.72"/>
<circle cx="95.6" cy="629.2" r="1.2" fill="#231f20" stroke-width="0.92"/>
<circle cx="224.5" cy="640.2" r="4.2" stroke-width="2.18"/>
<path d="M221.9,638.7 L227.1,641.7 M223.0,642.8 L226.0,637.6" stroke-width="1.72"/>
<circle cx="224.5" cy="640.2" r="1.2" fill="#231f20" stroke-width="0.92"/>
<path d="M83,575.6 L83,538.3 L98.6,538.3 C103,538.3 105.8,542 105.8,546.6 L105.8,569.4 C105.8,574.5 102,577.7 98.6,577.7 L83,575.6" stroke-width="1.72"/>
<path d="M85,540 L85,574" stroke-width="1.03"/>
<ellipse cx="94.4" cy="558" rx="4.7" ry="11.4" stroke-width="1.5"/>
<path d="M91.5,552 L91.5,566 M91.5,557 L93,557" stroke-width="1.15"/>
<path d="M230.6,589.2 L221,589.2 C217.5,589.2 214.9,586 214.9,582 L214.9,556 C214.9,552 217.5,549.2 221,549.2 L230.6,549.2" stroke-width="1.72"/>
<ellipse cx="225.6" cy="569.3" rx="3.6" ry="11.4" stroke-width="1.5"/>
<path d="M227.5,563 L227.5,576 M230.6,573.5 L232,573.5" stroke-width="1.15"/>
<path d="M67,561.1 L73.5,561.1 M67,620 L73.5,620" stroke-width="1.84"/>
<path d="M77.8,585.0 L86.1,581.8 M77.8,587.2 L86.1,584.0" stroke-width="1.61"/>
<path d="M77.8,594.3 L86.1,591.1 M77.8,596.5 L86.1,593.3" stroke-width="1.61"/>
<path d="M77.8,603.6 L86.1,600.4 M77.8,605.8 L86.1,602.6" stroke-width="1.61"/>
<path d="M77.8,612.9 L86.1,609.7 M77.8,615.1 L86.1,611.9" stroke-width="1.61"/>
<path d="M77.8,622.2 L86.1,619.0 M77.8,624.4 L86.1,621.2" stroke-width="1.61"/>
<path d="M77.8,631.5 L86.1,628.3 M77.8,633.7 L86.1,630.5" stroke-width="1.61"/>
<rect x="87.5" y="592.0" width="12.5" height="33.0" rx="0.0" stroke-width="1.49"/>
<path d="M101.7,594 L101.7,626" stroke-width="1.26"/>
<rect x="88.5" y="594.0" width="4.5" height="4.3" rx="0.0" fill="#4a4a4a" stroke-width="0.69"/>
<rect x="94.0" y="594.0" width="4.5" height="4.3" rx="0.0" fill="#4a4a4a" stroke-width="0.69"/>
<rect x="88.5" y="599.3" width="4.5" height="4.3" rx="0.0" fill="#4a4a4a" stroke-width="0.69"/>
<rect x="94.0" y="599.3" width="4.5" height="4.3" rx="0.0" fill="#4a4a4a" stroke-width="0.69"/>
<rect x="88.5" y="604.6" width="4.5" height="4.3" rx="0.0" fill="#4a4a4a" stroke-width="0.69"/>
<rect x="94.0" y="604.6" width="4.5" height="4.3" rx="0.0" fill="#4a4a4a" stroke-width="0.69"/>
<rect x="88.5" y="609.9" width="4.5" height="4.3" rx="0.0" fill="#4a4a4a" stroke-width="0.69"/>
<rect x="94.0" y="609.9" width="4.5" height="4.3" rx="0.0" fill="#4a4a4a" stroke-width="0.69"/>
<rect x="88.5" y="615.2" width="4.5" height="4.3" rx="0.0" fill="#4a4a4a" stroke-width="0.69"/>
<rect x="94.0" y="615.2" width="4.5" height="4.3" rx="0.0" fill="#4a4a4a" stroke-width="0.69"/>
<rect x="88.5" y="620.5" width="4.5" height="4.3" rx="0.0" fill="#4a4a4a" stroke-width="0.69"/>
<rect x="94.0" y="620.5" width="4.5" height="4.3" rx="0.0" fill="#4a4a4a" stroke-width="0.69"/>
<path d="M108.9,587 L117.2,580.8 L150.6,584.2 L144,589.2 Z" stroke-width="1.61"/>
<path d="M108.9,587 L108.9,625.6 L143.4,629.2 L144,589.2 M143.4,629.2 L150.6,623.5 L150.6,584.2" stroke-width="1.61"/>
<ellipse cx="165.6" cy="614.5" rx="7.6" ry="8.2" stroke-width="1.5"/>
<ellipse cx="165.6" cy="614.5" rx="5.6" ry="6.2" stroke-width="1.0"/>
<path d="M161,606.5 L176.7,599.5 M171.5,620.5 L184.8,613" stroke-width="1.49"/>
<path d="M178,600 C184,599 186,605 184.5,612" stroke-width="3.45"/>
<path d="M175,601 C180,601 182,607 181,614" stroke-width="1.38"/>
<path d="M159.8,629.7 L170,623 L200,623.8 L188.3,630.5 Z" stroke-width="1.61"/>
<path d="M159.8,629.7 L159.8,646 L188.3,648.3 L188.3,630.5 M188.3,648.3 L200,642.5 L200,623.8" stroke-width="1.61"/>
<path d="M141.7,640 C142,635 148,632 155,633 C158,634 159.5,636 159.5,639 M141.7,640 C143,645 150,647 159.5,645" stroke-width="1.49"/>
<ellipse cx="151" cy="637.5" rx="4.5" ry="2.5" fill="#231f20" stroke-width="1"/>
<path d="M141.7,645 L141.7,660 M145.5,648 L145.5,661.5 L152,662 L152,649 M155.5,648.5 L155.5,662.5" stroke-width="1.38"/>
<path d="M160.3,660 L229.2,664.7 M175.5,650.7 L229.2,655.3 M160.3,660 L175.5,650.7" stroke-width="1.38"/>
<path d="M172.0,656.0 L176.0,653.5" stroke-width="2.3"/>
<path d="M179.2,656.5 L183.2,654.0" stroke-width="2.3"/>
<path d="M186.4,656.9 L190.4,654.4" stroke-width="2.3"/>
<path d="M193.6,657.4 L197.6,654.9" stroke-width="2.3"/>
<path d="M200.8,657.8 L204.8,655.3" stroke-width="2.3"/>
<path d="M208.0,658.2 L212.0,655.8" stroke-width="2.3"/>
<path d="M215.2,658.7 L219.2,656.2" stroke-width="2.3"/>
<path d="M222.4,659.1 L226.4,656.6" stroke-width="2.3"/>
<path d="M87.0,652.0 L91.0,649.5" stroke-width="2.3"/>
<path d="M94.0,652.2 L98.0,649.7" stroke-width="2.3"/>
<path d="M101.0,652.4 L105.0,649.9" stroke-width="2.3"/>
<path d="M108.0,652.6 L112.0,650.1" stroke-width="2.3"/>
<path d="M115.0,652.8 L119.0,650.3" stroke-width="2.3"/>
<path d="M122.0,653.0 L126.0,650.5" stroke-width="2.3"/>
<path d="M129.0,653.2 L133.0,650.7" stroke-width="2.3"/>
<path d="M93.0,641.0 L96.5,639.5" stroke-width="1.72"/>
<path d="M101.0,641.3 L104.5,639.8" stroke-width="1.72"/>
<path d="M109.0,641.6 L112.5,640.1" stroke-width="1.72"/>
<path d="M117.0,641.9 L120.5,640.4" stroke-width="1.72"/>
<path d="M125.0,642.2 L128.5,640.7" stroke-width="1.72"/>
<path d="M203.0,649.5 L206.0,648.0" stroke-width="1.72"/>
<path d="M208.0,649.8 L211.0,648.3" stroke-width="1.72"/>
<path d="M213.0,650.1 L216.0,648.6" stroke-width="1.72"/>
<path d="M218.0,650.4 L221.0,648.9" stroke-width="1.72"/>
<path d="M223.0,650.7 L226.0,649.2" stroke-width="1.72"/>
<path d="M86,648 L139,650 L141.7,645" stroke-width="1.26"/>
</g>
<g id="ill4" fill="none" stroke="#231f20" stroke-linejoin="round" stroke-linecap="round">
<path d="M386.5,428.5 L630.2,439.7 L624.9,702.1 L386.5,686.2 Z" stroke-width="1.4"/>
<use href="#plate" transform="translate(352,-10.4)"/>
<path d="M432.5,543 L449.9,543.5 L449.9,550.8 L432.5,550.5 Z" fill="#231f20" stroke-width="1"/>
<path d="M436,543 L436,550.5 M440,543.2 L440,550.6 M444,543.3 L444,550.7" stroke="#fff" stroke-width="0.6"/>
<ellipse cx="428.3" cy="546.3" rx="4.4" ry="6.3" fill="#fff" stroke-width="1.6"/>
<path d="M428.8,540.5 L428.8,552" stroke-width="1.2"/>
<path d="M419.5,550 L424,550.3 L424,552.5 L419.5,552.2 Z" stroke-width="1.1"/>
<path d="M560,557.8 L576.3,558.5 L576.3,565.5 L560,565 Z" fill="#231f20" stroke-width="1"/>
<path d="M564,558 L564,565 M568,558.2 L568,565.2 M572,558.3 L572,565.3" stroke="#fff" stroke-width="0.6"/>
<ellipse cx="554.8" cy="561.4" rx="5.2" ry="7" fill="#fff" stroke-width="1.6"/>
<path d="M555.5,555 L555.5,568" stroke-width="1.2"/>
</g>
<!-- HEADING -->
<g fill="#231f20">
<path d="M797.5,195.2 L816.2,205.6 L797.5,216 Z"/>
<text x="834" y="218.3" font-size="35" font-weight="bold" stroke="#231f20" stroke-width="0.45" textLength="289.5" lengthAdjust="spacingAndGlyphs">Схема подключения</text>
<text x="792" y="253.6" font-size="20.6" fill="#3d3d3d" textLength="239" lengthAdjust="spacingAndGlyphs">Подключение нагрузки</text>
</g>
<!-- DIAGRAM -->
<g fill="none" stroke="#231f20" stroke-width="1.3">
<rect x="932" y="310.5" width="67.5" height="31.5"/>
<line x1="965.7" y1="310.5" x2="965.7" y2="342"/>
<rect x="1015.4" y="306" width="211.6" height="36.5"/>
<line x1="1068.5" y1="306" x2="1068.5" y2="342.5"/>
<line x1="1121.2" y1="306" x2="1121.2" y2="342.5"/>
<line x1="1174" y1="306" x2="1174" y2="342.5"/>
</g>
<g fill="#231f20" stroke="none">
<text x="932" y="300.1" font-size="14.5" fill="#3d3d3d" textLength="67.5" lengthAdjust="spacingAndGlyphs">OUT_NTC</text>
<text x="1041.5" y="335" font-size="20.5" text-anchor="middle">1</text>
<text x="1094.5" y="335" font-size="20.5" text-anchor="middle">2</text>
<text x="1148" y="335" font-size="20.5" text-anchor="middle">3</text>
<text x="1201" y="335" font-size="20.5" text-anchor="middle">4</text>
<path d="M949.3,348.8 L954.9,369 L943.7,369 Z"/>
<path d="M986.4,348.8 L992,369 L980.8,369 Z"/>
<path d="M1041.2,348.8 L1046.8,366.6 L1035.6,366.6 Z"/>
<path d="M1094.5,348.8 L1100.1,366.6 L1088.9,366.6 Z"/>
<path d="M1148,348.8 L1153.6,366.6 L1142.4,366.6 Z"/>
<path d="M1201,366 L1206.6,349 L1195.4,349 Z"/>
<text x="967.5" y="432.5" font-size="18" fill="#3d3d3d" text-anchor="middle" textLength="60" lengthAdjust="spacingAndGlyphs">Датчик</text>
<text x="1041.2" y="432.5" font-size="18" fill="#3d3d3d" text-anchor="middle">N</text>
<text x="1094.5" y="432.5" font-size="18" fill="#3d3d3d" text-anchor="middle">N</text>
<text x="1148" y="432.5" font-size="18" fill="#3d3d3d" text-anchor="middle">L</text>
<text x="1201" y="432.5" font-size="18" fill="#3d3d3d" text-anchor="middle">L1</text>
<text x="1102.5" y="453" font-size="18" font-weight="bold" textLength="43.5" lengthAdjust="spacingAndGlyphs">Сеть</text>
<text x="1186.6" y="454.5" font-size="18" fill="#3d3d3d" textLength="32" lengthAdjust="spacingAndGlyphs">16A</text>
<text x="1078.4" y="496" font-size="19" font-weight="bold" textLength="85.6" lengthAdjust="spacingAndGlyphs">Нагрузка</text>
<text x="967.7" y="409.2" font-size="12" font-weight="bold" text-anchor="middle" textLength="16.5" lengthAdjust="spacingAndGlyphs">t°C</text>
</g>
<g fill="none" stroke="#231f20" stroke-width="1.8">
<polyline points="949.3,369 949.3,404.6 953.2,404.6"/>
<polyline points="986.4,369 986.4,404.6 982.4,404.6"/>
<rect x="953.2" y="397.6" width="29.2" height="14.8" rx="7.4"/>
<line x1="1041.2" y1="366" x2="1041.2" y2="392.5"/>
<line x1="1094.5" y1="366" x2="1094.5" y2="392.5"/>
<line x1="1148" y1="366" x2="1148" y2="392.5"/>
<line x1="1201" y1="364" x2="1201" y2="392.5"/>
</g>
<g fill="none" stroke="#231f20" stroke-width="2.7" stroke-linecap="round">
<path id="tl" d="M1033,409 C1035,401 1039,402 1041.2,406 C1043.5,410 1047,411 1049.5,403"/>
<path d="M1086.3,409 C1088.3,401 1092.3,402 1094.5,406 C1096.8,410 1100.3,411 1102.8,403"/>
<path d="M1139.8,409 C1141.8,401 1145.8,402 1148,406 C1150.3,410 1153.8,411 1156.3,403"/>
<path d="M1192.8,409 C1194.8,401 1198.8,402 1201,406 C1203.3,410 1206.8,411 1209.3,403"/>
</g>
<g fill="none" stroke="#231f20" stroke-width="2.1" stroke-dasharray="5.4 4">
<polyline points="1040.5,438.7 1040.5,518 1088,518"/>
<polyline points="1202.4,461 1202.4,518 1155,518"/>
<rect x="1088" y="507.2" width="67" height="21.8"/>
</g>
</svg>
</body></html>
